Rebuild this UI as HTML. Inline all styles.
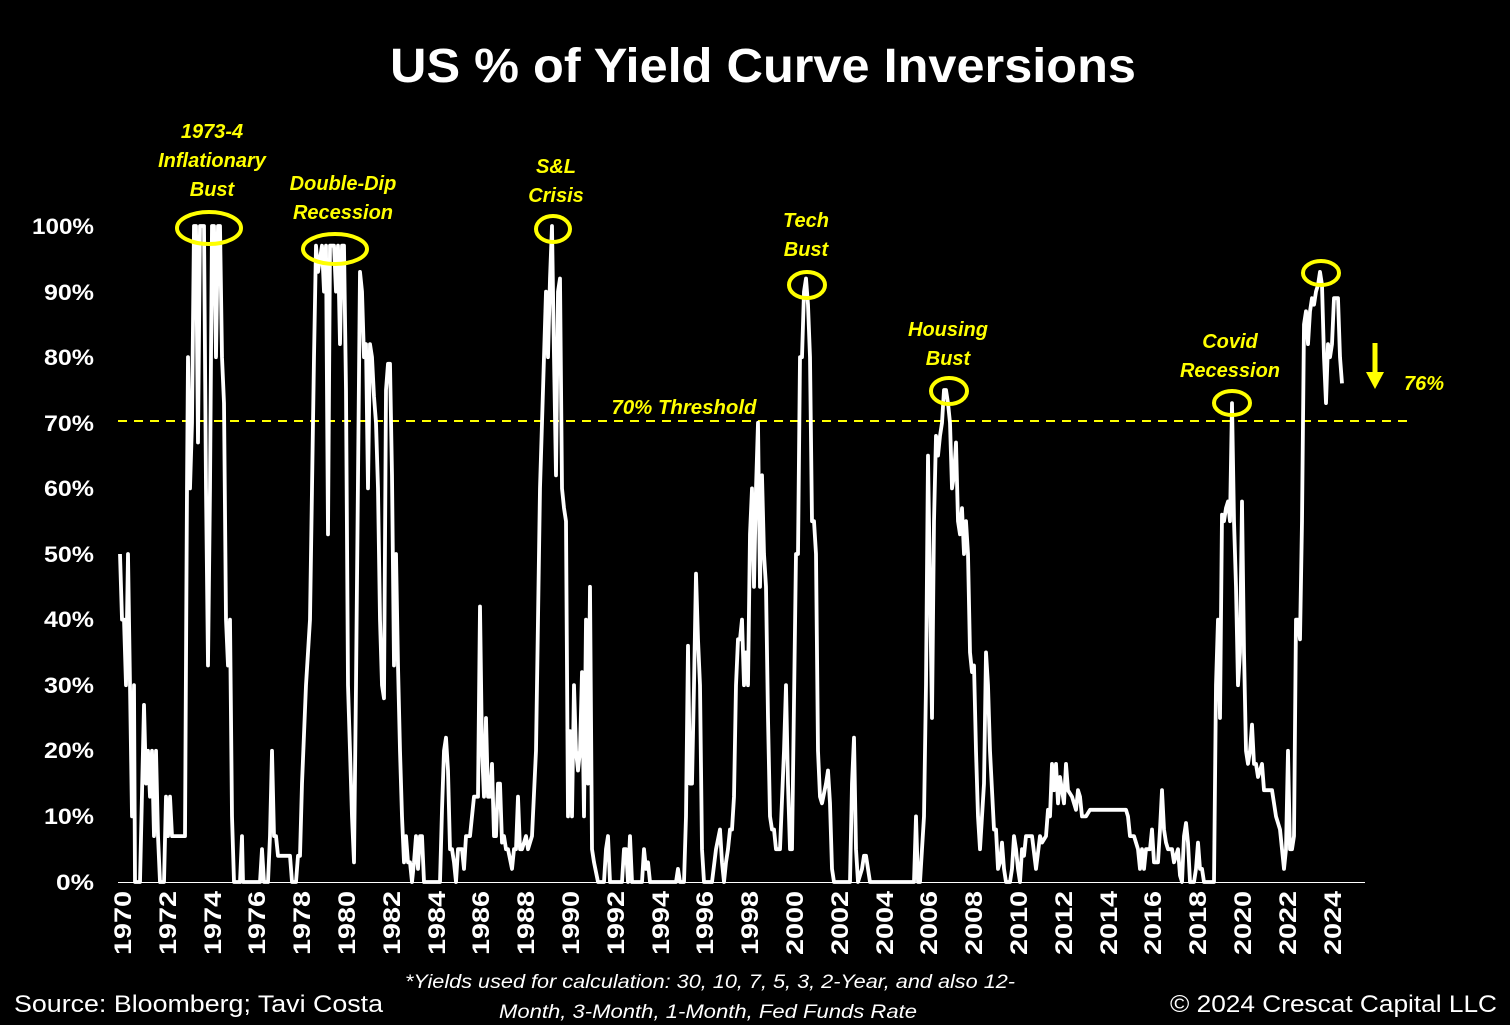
<!DOCTYPE html>
<html><head><meta charset="utf-8"><style>
html,body{margin:0;padding:0;background:#000;}
svg{display:block;}
text{font-family:"Liberation Sans",sans-serif;}
</style></head><body>
<svg width="1510" height="1025" viewBox="0 0 1510 1025" xmlns="http://www.w3.org/2000/svg">
<rect width="1510" height="1025" fill="#000"/>
<text x="763" y="82" fill="#fff" font-size="48" font-weight="bold" text-anchor="middle" textLength="746" lengthAdjust="spacingAndGlyphs">US % of Yield Curve Inversions</text>
<g fill="#fff" font-size="22" font-weight="bold" text-anchor="end">
<text x="94" y="234" textLength="62" lengthAdjust="spacingAndGlyphs">100%</text>
<text x="94" y="300" textLength="50" lengthAdjust="spacingAndGlyphs">90%</text>
<text x="94" y="365" textLength="50" lengthAdjust="spacingAndGlyphs">80%</text>
<text x="94" y="431" textLength="50" lengthAdjust="spacingAndGlyphs">70%</text>
<text x="94" y="496" textLength="50" lengthAdjust="spacingAndGlyphs">60%</text>
<text x="94" y="562" textLength="50" lengthAdjust="spacingAndGlyphs">50%</text>
<text x="94" y="627" textLength="50" lengthAdjust="spacingAndGlyphs">40%</text>
<text x="94" y="693" textLength="50" lengthAdjust="spacingAndGlyphs">30%</text>
<text x="94" y="758" textLength="50" lengthAdjust="spacingAndGlyphs">20%</text>
<text x="94" y="824" textLength="50" lengthAdjust="spacingAndGlyphs">10%</text>
<text x="94" y="890" textLength="38" lengthAdjust="spacingAndGlyphs">0%</text>
</g>
<line x1="118" y1="882.5" x2="1365" y2="882.5" stroke="#fff" stroke-width="1"/>
<g fill="#fff" font-size="24" font-weight="bold">
<text transform="translate(131,955) rotate(-90)" textLength="64" lengthAdjust="spacingAndGlyphs">1970</text>
<text transform="translate(176,955) rotate(-90)" textLength="64" lengthAdjust="spacingAndGlyphs">1972</text>
<text transform="translate(221,955) rotate(-90)" textLength="64" lengthAdjust="spacingAndGlyphs">1974</text>
<text transform="translate(265,955) rotate(-90)" textLength="64" lengthAdjust="spacingAndGlyphs">1976</text>
<text transform="translate(310,955) rotate(-90)" textLength="64" lengthAdjust="spacingAndGlyphs">1978</text>
<text transform="translate(355,955) rotate(-90)" textLength="64" lengthAdjust="spacingAndGlyphs">1980</text>
<text transform="translate(400,955) rotate(-90)" textLength="64" lengthAdjust="spacingAndGlyphs">1982</text>
<text transform="translate(445,955) rotate(-90)" textLength="64" lengthAdjust="spacingAndGlyphs">1984</text>
<text transform="translate(489,955) rotate(-90)" textLength="64" lengthAdjust="spacingAndGlyphs">1986</text>
<text transform="translate(534,955) rotate(-90)" textLength="64" lengthAdjust="spacingAndGlyphs">1988</text>
<text transform="translate(579,955) rotate(-90)" textLength="64" lengthAdjust="spacingAndGlyphs">1990</text>
<text transform="translate(624,955) rotate(-90)" textLength="64" lengthAdjust="spacingAndGlyphs">1992</text>
<text transform="translate(669,955) rotate(-90)" textLength="64" lengthAdjust="spacingAndGlyphs">1994</text>
<text transform="translate(713,955) rotate(-90)" textLength="64" lengthAdjust="spacingAndGlyphs">1996</text>
<text transform="translate(758,955) rotate(-90)" textLength="64" lengthAdjust="spacingAndGlyphs">1998</text>
<text transform="translate(803,955) rotate(-90)" textLength="64" lengthAdjust="spacingAndGlyphs">2000</text>
<text transform="translate(848,955) rotate(-90)" textLength="64" lengthAdjust="spacingAndGlyphs">2002</text>
<text transform="translate(893,955) rotate(-90)" textLength="64" lengthAdjust="spacingAndGlyphs">2004</text>
<text transform="translate(937,955) rotate(-90)" textLength="64" lengthAdjust="spacingAndGlyphs">2006</text>
<text transform="translate(982,955) rotate(-90)" textLength="64" lengthAdjust="spacingAndGlyphs">2008</text>
<text transform="translate(1027,955) rotate(-90)" textLength="64" lengthAdjust="spacingAndGlyphs">2010</text>
<text transform="translate(1072,955) rotate(-90)" textLength="64" lengthAdjust="spacingAndGlyphs">2012</text>
<text transform="translate(1117,955) rotate(-90)" textLength="64" lengthAdjust="spacingAndGlyphs">2014</text>
<text transform="translate(1161,955) rotate(-90)" textLength="64" lengthAdjust="spacingAndGlyphs">2016</text>
<text transform="translate(1206,955) rotate(-90)" textLength="64" lengthAdjust="spacingAndGlyphs">2018</text>
<text transform="translate(1251,955) rotate(-90)" textLength="64" lengthAdjust="spacingAndGlyphs">2020</text>
<text transform="translate(1296,955) rotate(-90)" textLength="64" lengthAdjust="spacingAndGlyphs">2022</text>
<text transform="translate(1341,955) rotate(-90)" textLength="64" lengthAdjust="spacingAndGlyphs">2024</text>
</g>
<line x1="118" y1="421" x2="1412" y2="421" stroke="#ffff00" stroke-width="2" stroke-dasharray="9,7"/>
<polyline id="ser" fill="none" stroke="#fff" stroke-width="3.8" stroke-linejoin="round" points=""/>
<g fill="none" stroke="#ffff00" stroke-width="4">
<ellipse cx="209" cy="228" rx="32" ry="16"/>
<ellipse cx="335" cy="249" rx="32" ry="15"/>
<ellipse cx="553" cy="229" rx="17" ry="13"/>
<ellipse cx="807" cy="285" rx="18" ry="13"/>
<ellipse cx="949" cy="391" rx="18" ry="13"/>
<ellipse cx="1232" cy="403" rx="18" ry="12"/>
<ellipse cx="1321" cy="273" rx="18" ry="12"/>
</g>
<g fill="#ffff00" font-size="20" font-weight="bold" font-style="italic" text-anchor="middle">
<text x="212" y="138">1973-4</text>
<text x="212" y="167">Inflationary</text>
<text x="212" y="196">Bust</text>
<text x="343" y="190">Double-Dip</text>
<text x="343" y="219">Recession</text>
<text x="556" y="173">S&amp;L</text>
<text x="556" y="202">Crisis</text>
<text x="806" y="227">Tech</text>
<text x="806" y="256">Bust</text>
<text x="948" y="336">Housing</text>
<text x="948" y="365">Bust</text>
<text x="1230" y="348">Covid</text>
<text x="1230" y="377">Recession</text>
<text x="684" y="414" textLength="145" lengthAdjust="spacingAndGlyphs">70% Threshold</text>
<text x="1424" y="390">76%</text>
</g>
<line x1="1375" y1="343" x2="1375" y2="374" stroke="#ffff00" stroke-width="5"/>
<polygon points="1366,372 1384,372 1375,389" fill="#ffff00"/>
<g fill="#fff" font-size="19" font-style="italic" text-anchor="middle">
<text x="710" y="988" textLength="610" lengthAdjust="spacingAndGlyphs">*Yields used for calculation: 30, 10, 7, 5, 3, 2-Year, and also 12-</text>
<text x="708" y="1018" textLength="418" lengthAdjust="spacingAndGlyphs">Month, 3-Month, 1-Month, Fed Funds Rate</text>
</g>
<text x="14" y="1012" fill="#fff" font-size="24" textLength="369" lengthAdjust="spacingAndGlyphs">Source: Bloomberg; Tavi Costa</text>
<text x="1497" y="1012" fill="#fff" font-size="24" text-anchor="end" textLength="327" lengthAdjust="spacingAndGlyphs">© 2024 Crescat Capital LLC</text>
<script>
var d="120:50,122:40,124:40,126:30,128:50,130:30,132:10,134:30,135:0,140:0,144:27,146:15,148:20,150:13,152:20,154:7,156:20,158:7,160:0,164:0,166:13,168:7,170:13,172:7,185:7,187:60,188:80,190:60,192:70,194:100,196:100,198:67,200:100,202:100,204:100,206:60,208:33,210:60,212:100,214:100,216:80,218:100,220:100,222:80,224:73,226:40,228:33,230:40,232:10,234:0,240:0,242:7,243:0,260:0,262:5,264:0,268:0,270:7,272:20,274:7,276:7,278:4,290:4,292:0,296:0,298:4,300:4,302:15,306:30,310:40,314:80,316:97,318:93,322:97,324:90,326:97,328:53,330:97,334:97,336:90,338:97,340:82,342:97,344:97,346:75,348:30,352:10,354:3,356:30,360:93,362:90,364:80,366:82,368:60,370:82,372:80,374:74,376:70,378:60,380:40,382:30,384:28,386:75,388:79,390:79,392:62,394:33,396:50,398:33,400:20,402:10,404:3,406:7,408:3,410:3,412:0,414:3,416:7,418:2,420:7,422:7,424:0,440:0,442:11,444:20,446:22,448:17,450:5,452:5,454:3,456:0,458:5,460:5,462:5,464:2,466:7,468:7,470:7,474:13,478:13,480:42,482:20,484:13,486:25,488:13,490:13,492:18,494:7,496:7,498:15,500:15,502:6,504:7,506:5,508:5,512:2,514:5,516:5,518:13,520:5,522:5,526:7,528:5,532:7,536:20,540:60,544:80,546:90,548:80,550:92,552:100,554:80,556:62,558:90,560:92,562:60,564:57,566:55,568:10,570:23,572:10,574:30,576:20,578:17,580:20,582:32,584:10,586:40,588:15,590:45,592:5,594:3,598:0,604:0,606:5,608:7,610:0,622:0,624:5,626:5,628:0,630:7,632:0,642:0,644:5,646:2,648:3,650:0,676:0,678:2,680:0,684:0,686:10,688:36,690:15,692:15,694:30,696:47,698:37,700:30,702:5,704:0,708:0,712:0,716:5,720:8,722:3,724:0,726:3,728:5,730:8,732:8,734:13,736:30,738:37,740:37,742:40,744:30,746:35,748:30,750:53,752:60,754:45,756:60,758:70,760:45,762:62,764:50,766:45,768:25,770:10,772:8,774:8,776:5,780:5,784:20,786:30,788:15,790:5,792:5,796:50,798:50,800:80,802:80,804:90,806:92,808:88,810:80,812:55,814:55,816:50,818:20,820:13,822:12,826:15,828:17,830:12,832:2,834:0,850:0,852:15,854:22,856:5,858:0,862:2,864:4,866:4,870:0,914:0,916:10,918:0,920:0,924:10,926:30,928:65,930:45,932:25,934:55,936:68,938:65,940:68,942:70,944:75,946:75,948:73,950:70,952:60,954:62,956:67,958:55,960:53,962:57,964:50,966:55,968:50,970:35,972:32,974:33,976:20,978:10,980:5,982:10,984:15,986:35,988:30,990:20,994:8,996:8,998:2,1000:3,1002:6,1004:2,1006:0,1010:0,1012:2,1014:7,1016:5,1018:2,1020:0,1022:5,1024:4,1026:7,1030:7,1032:7,1036:2,1040:7,1042:6,1046:7,1048:11,1050:10,1052:18,1054:14,1056:18,1058:12,1060:16,1062:14,1064:12,1066:18,1068:14,1072:13,1076:11,1078:14,1080:13,1082:10,1086:10,1090:11,1094:11,1126:11,1128:10,1130:7,1134:7,1138:5,1140:2,1142:5,1144:2,1146:5,1150:5,1152:8,1154:3,1158:3,1160:8,1162:14,1164:8,1166:6,1168:5,1172:5,1174:3,1178:5,1180:1,1182:0,1184:7,1186:9,1188:6,1190:0,1194:0,1196:2,1198:6,1200:2,1202:2,1204:0,1214:0,1216:30,1218:40,1220:25,1222:56,1224:55,1226:57,1228:58,1230:55,1232:73,1234:55,1236:45,1238:30,1240:35,1242:58,1244:35,1246:20,1248:18,1250:20,1252:24,1254:18,1256:18,1258:16,1262:18,1264:14,1268:14,1272:14,1276:10,1280:8,1282:5,1284:2,1286:5,1288:20,1290:5,1292:5,1294:7,1296:40,1298:40,1300:37,1302:55,1304:85,1306:87,1308:82,1310:87,1312:89,1314:88,1316:90,1318:91,1320:93,1322:91,1324:80,1326:73,1328:82,1330:80,1332:82,1334:89,1336:89,1338:89,1340:80,1342:76";
var pts=d.split(',').map(function(p){var a=p.split(':');return a[0]+','+(882-6.56*parseFloat(a[1])).toFixed(1);}).join(' ');
document.getElementById('ser').setAttribute('points',pts);
</script>
</svg>
</body></html>
